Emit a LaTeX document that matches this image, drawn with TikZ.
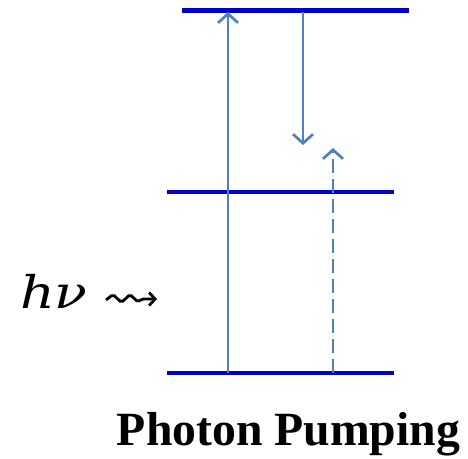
\documentclass[tikz,border=0pt]{standalone}
\usepackage{graphicx}
\usepackage{fontspec}
\setmainfont{Liberation Serif}
\newfontfamily\hvfont{DejaVu Serif}
\usetikzlibrary{arrows.meta}
\definecolor{lvl}{RGB}{0,0,204}
\definecolor{arr}{RGB}{79,129,189}
\begin{document}
\begin{tikzpicture}[x=1pt,y=-1pt,
  level/.style={draw=lvl,line width=4.5pt},
  trans/.style={draw=arr,line width=2.7pt,-{Straight Barb[length=9pt,width=20pt,line width=2.7pt]}},
  dtrans/.style={trans,dash pattern=on 14pt off 6pt},
  squig/.style={draw=black,line width=2.8pt,rounded corners=2pt,-{Straight Barb[length=6pt,width=13pt,line width=2.8pt]}}]
\useasboundingbox (0,0) rectangle (468,458);
\coordinate (t1) at (182,10.5);
\coordinate (t2) at (409,10.5);
\coordinate (m1) at (167,192);
\coordinate (m2) at (394,192);
\coordinate (b1) at (167,373);
\coordinate (b2) at (394,373);
\draw[level] (t1) -- (t2);
\draw[level] (m1) -- (m2);
\draw[level] (b1) -- (b2);
\coordinate (a1s) at (228,373);
\coordinate (a1e) at (228,12);
\coordinate (a2s) at (303,12);
\coordinate (a2e) at (303,145);
\coordinate (a3s) at (333,373);
\coordinate (a3e) at (333,148);
\draw[trans] (a1s) -- (a1e);
\draw[trans] (a2s) -- (a2e);
\draw[dtrans] (a3s) -- (a3e);
\node[anchor=base west,inner sep=0pt,font=\fontsize{45}{50}\selectfont\hvfont\itshape] (hv) at (20,308) {\scalebox{1.2}[1]{hν}};
\coordinate (sqs) at (106,300);
\coordinate (sqe) at (157,299);
\draw[squig] (sqs) -- (113,294.5) -- (121.5,302.5) -- (130,294.5) -- (138,302) -- (141.5,299) -- (sqe);
\node[anchor=base,inner sep=0pt,font=\fontsize{47.7}{55}\selectfont\bfseries] (title) at (288.5,445) {Photon Pumping};
\end{tikzpicture}
\end{document}
